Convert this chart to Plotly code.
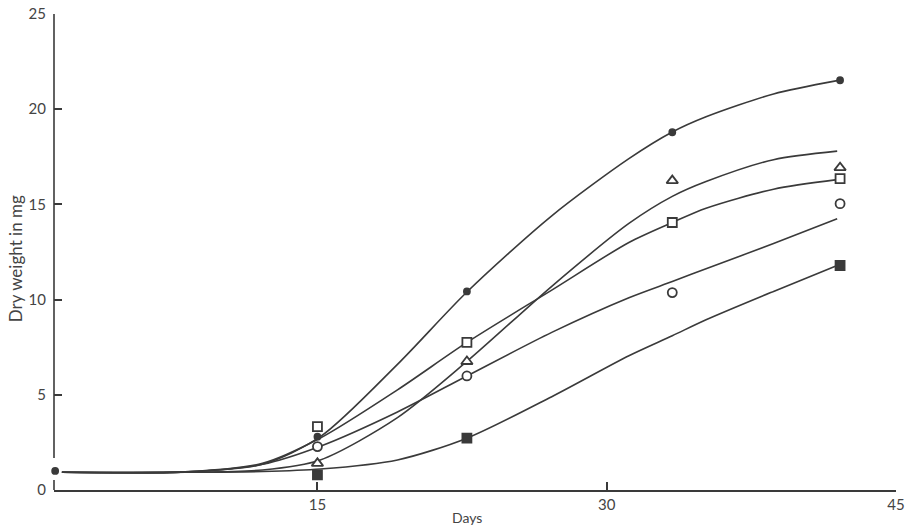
import plotly.graph_objects as go

# ---- data ----
point_days = [1.4, 15, 22.75, 33.4, 42.1]
dot_pts = [1.0, 2.8, 10.43, 18.79, 21.52]
triangle_pts = [None, 1.40, 6.75, 16.25, 16.93]
open_square_pts = [None, 3.33, 7.75, 14.05, 16.35]
open_circle_pts = [None, 2.28, 5.99, 10.37, 15.04]
filled_square_pts = [None, 0.79, 2.72, None, 11.79]

curve_days = [1.75, 8.15, 12.15, 15.15, 19.15, 22.75, 27.15, 31.15, 33.4, 35.15, 38.65, 41.95]
dot_curve = [0.93, 0.95, 1.35, 2.8, 6.6, 10.4, 14.4, 17.4, 18.8, 19.6, 20.8, 21.5]
triangle_curve = [0.93, 0.93, 1.05, 1.58, 3.8, 6.75, 10.7, 14.0, 15.42, 16.2, 17.35, 17.8]
open_square_curve = [0.93, 0.95, 1.4, 2.73, 5.26, 7.75, 10.5, 13.0, 14.05, 14.8, 15.8, 16.3]
open_circle_curve = [0.93, 0.95, 1.35, 2.3, 4.1, 5.99, 8.28, 10.1, 10.95, 11.62, 12.95, 14.25]
filled_square_curve = [0.93, 0.93, 0.97, 1.1, 1.58, 2.72, 4.9, 7.05, 8.1, 8.94, 10.43, 11.79]

x_ticks = [15, 30, 45]
y_ticks = [0, 5, 10, 15, 20, 25]

INK = "#3a3a3a"
TXT = "#444444"
FONT = "Lato, 'Open Sans', sans-serif"

fig = go.Figure()

for ys in [dot_curve, triangle_curve, open_square_curve, open_circle_curve, filled_square_curve]:
    fig.add_trace(go.Scatter(
        x=curve_days, y=ys, mode="lines",
        line=dict(color=INK, width=1.6, shape="spline", smoothing=0.8),
        hoverinfo="skip", showlegend=False, cliponaxis=False))

marker_specs = [
    (dot_pts, "circle", 6, INK),
    (triangle_pts, "triangle-up", 10, "white"),
    (open_square_pts, "square", 9, "white"),
    (open_circle_pts, "circle", 9, "white"),
    (filled_square_pts, "square", 9, INK),
]
for ys, sym, size, fill in marker_specs:
    fig.add_trace(go.Scatter(
        x=point_days, y=ys, mode="markers",
        marker=dict(symbol=sym, size=size, color=fill, line=dict(color=INK, width=1.8)),
        showlegend=False, cliponaxis=False))

fig.update_layout(
    width=905, height=531,
    margin=dict(l=54, r=9, t=14, b=41, autoexpand=False),
    paper_bgcolor="white", plot_bgcolor="white",
    font=dict(family=FONT, size=14, color=TXT),
    xaxis=dict(range=[1.34, 45], tickvals=x_ticks, ticks="inside", ticklen=8,
               tickwidth=1.5, tickcolor=INK, showline=True, linecolor=INK, linewidth=1.6,
               showgrid=False, zeroline=False, automargin=False,
               tickfont=dict(size=15, color=TXT)),
    yaxis=dict(range=[0, 25], tickvals=y_ticks, ticks="inside", ticklen=8,
               tickwidth=1.5, tickcolor=INK, showline=False,
               showgrid=False, zeroline=False, ticklabelstandoff=7, automargin=False,
               tickfont=dict(size=15, color=TXT)),
    shapes=[
        dict(type="line", xref="paper", yref="y", x0=0, x1=0, y0=1.68, y1=25,
             line=dict(color=INK, width=1.6)),
        dict(type="line", xref="paper", yref="y", x0=0, x1=0, y0=0, y1=0.53,
             line=dict(color=INK, width=1.6)),
    ],
    annotations=[
        dict(text="Dry weight in mg", xref="paper", yref="paper", x=-0.0463, y=0.485,
             textangle=-90, showarrow=False, xanchor="center", yanchor="middle",
             font=dict(size=17, color=TXT)),
        dict(text="Days", xref="paper", yref="paper", x=0.4905, y=-0.057,
             showarrow=False, xanchor="center", yanchor="middle",
             font=dict(size=14, color=TXT)),
    ],
)

# remove the browser's default 8px body margin so the 905x531 figure fills the window
fig.write_html("out.html", config={"displayModeBar": False},
               post_script="document.body.style.margin='0';document.body.style.overflow='hidden';")
